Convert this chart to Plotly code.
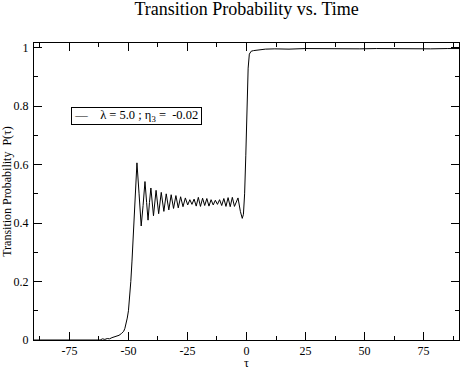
import plotly.graph_objects as go

# Werte (tau, P)
tau = [-90, -70, -62, -61, -60, -59, -58, -57, -56, -55, -54, -53, -52, -51.5,
       -51, -50.5, -50, -49.5, -49, -48.5, -48, -47.5, -47, -46.4,
       -45.5, -44.6, -43.8, -43.0, -42.3, -41.7, -41.1, -40.5, -39.4, -38.3,
       -37.2, -36.1, -35.0, -34.0, -32.9, -31.9, -30.9, -29.9, -28.9, -27.9,
       -26.9, -25.9, -24.9, -24.0, -23.1, -22.2, -21.3, -20.4, -19.5, -18.6,
       -17.7, -16.8, -15.9, -15.0, -14.1, -13.2, -12.3, -11.4, -10.5, -9.6,
       -8.7, -7.8, -6.9, -6.0, -5.1, -4.3, -3.6, -2.6, -1.8, -1.3, -0.8,
       -0.3, 0.2, 0.7, 1.2, 2.0, 3.0, 5.0, 8.0, 12, 18, 25, 32, 40, 48, 55,
       62, 70, 78, 85, 90]
prob = [0.0, 0.0, 0.0, 0.004, 0.002, 0.005, 0.004, 0.008, 0.01, 0.012, 0.016,
        0.022, 0.03, 0.04, 0.055, 0.075, 0.1, 0.14, 0.2, 0.27, 0.35, 0.44,
        0.53, 0.606,
        0.5, 0.39, 0.46, 0.542, 0.47, 0.41, 0.47, 0.52, 0.425, 0.512,
        0.432, 0.505, 0.44, 0.5, 0.445, 0.497, 0.45, 0.494, 0.452, 0.49,
        0.456, 0.486, 0.462, 0.48, 0.464, 0.482, 0.458, 0.488, 0.457, 0.485,
        0.46, 0.484, 0.458, 0.48, 0.462, 0.478, 0.464, 0.48, 0.46, 0.484,
        0.457, 0.487, 0.456, 0.488, 0.457, 0.47, 0.486, 0.44, 0.416, 0.43, 0.5,
        0.63, 0.8, 0.93, 0.978, 0.988, 0.99, 0.992, 0.995, 0.996, 0.995, 0.997,
        0.996, 0.997, 0.996, 0.997, 0.996, 0.997, 0.996, 0.997, 0.997]

x_ticks = [-75, -50, -25, 0, 25, 50, 75]
x_ticklabels = ["-75", "-50", "-25", "0", "25", "50", "75"]
y_ticks = [0, 0.2, 0.4, 0.6, 0.8, 1]
legend_text = "λ = 5.0 ; η<sub>3</sub> =  -0.02"

serif = "Liberation Serif, Times New Roman, serif"

fig = go.Figure()
fig.add_trace(go.Scatter(
    x=tau, y=prob, mode="lines",
    line=dict(color="black", width=1),
    name=legend_text, showlegend=False,
))

axis_style = dict(
    showline=True, linecolor="black", linewidth=1, mirror="ticks",
    ticks="inside", ticklen=8, tickcolor="black", showgrid=False,
    zeroline=False, automargin=False,
    tickfont=dict(family=serif, size=12, color="black"),
)

fig.update_xaxes(
    range=[-90, 90], tickvals=x_ticks, ticktext=x_ticklabels, ticklabelstandoff=0,
    minor=dict(dtick=12.5, tick0=0, ticks="inside", ticklen=4, tickcolor="black"),
    title=dict(text="τ", font=dict(family=serif, size=12, color="black"), standoff=3),
    **axis_style,
)
fig.update_yaxes(
    range=[0, 1.016], tickvals=y_ticks, ticklabelstandoff=2,
    minor=dict(dtick=0.1, tick0=0, ticks="inside", ticklen=4, tickcolor="black"),
    title=dict(text="Transition Probability  P(τ)",
               font=dict(family=serif, size=12, color="black"), standoff=4),
    **axis_style,
)

# Legendenkasten wie im Original (schmal, mit kurzer Linie)
fig.add_annotation(
    xref="paper", yref="paper", x=0.086, y=0.785, xanchor="left", yanchor="top",
    text=" —    " + legend_text + " ", showarrow=False, align="left",
    font=dict(family=serif, size=12.5, color="black"),
    bordercolor="black", borderwidth=1, borderpad=0, bgcolor="white",
)

fig.update_layout(
    width=461, height=370,
    margin=dict(l=34, r=2, t=43, b=30),
    paper_bgcolor="white", plot_bgcolor="white",
    title=dict(text="Transition Probability vs. Time", x=0.535, xanchor="center",
               y=0.993, yanchor="top",
               font=dict(family=serif, size=18, color="black")),
    showlegend=False,
)

# Seitenrand entfernen, damit die Grafik bei (0,0) beginnt
fig.write_html("out.html", config={"displayModeBar": False},
               post_script="document.body.style.margin='0px';")
